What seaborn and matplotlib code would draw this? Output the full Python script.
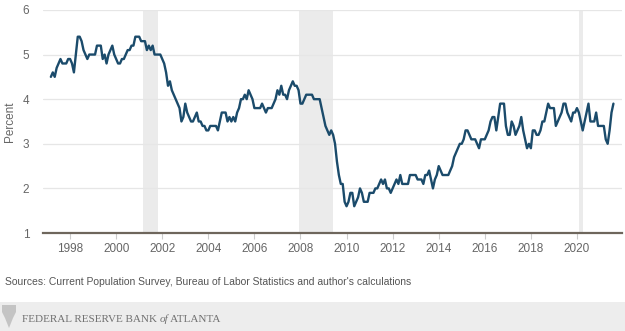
import numpy as np
import pandas as pd
import seaborn as sns
import matplotlib
matplotlib.use("Agg")
import matplotlib.pyplot as plt
from matplotlib.patches import Rectangle, Polygon

# ---- data (monthly, Mar 1997 - Aug 2021), percent ----
start_year = 1997
start_month = 3
values_1997 = [4.5, 4.6, 4.5, 4.7, 4.8, 4.9, 4.8, 4.8, 4.8, 4.9]
values_1998 = [4.9, 4.8, 4.6, 5.0, 5.4, 5.4, 5.3, 5.1, 5.0, 4.9, 5.0, 5.0]
values_1999 = [5.0, 5.0, 5.2, 5.2, 5.2, 4.9, 5.0, 4.8, 5.0, 5.1, 5.2, 5.0]
values_2000 = [4.9, 4.8, 4.8, 4.9, 4.9, 5.0, 5.1, 5.1, 5.2, 5.2, 5.4, 5.4]
values_2001 = [5.4, 5.3, 5.3, 5.3, 5.1, 5.2, 5.1, 5.2, 5.0, 5.0, 5.0, 5.0]
values_2002 = [4.9, 4.8, 4.6, 4.3, 4.4, 4.2, 4.1, 4.0, 3.9, 3.8, 3.5, 3.6]
values_2003 = [3.9, 3.7, 3.6, 3.5, 3.5, 3.6, 3.7, 3.5, 3.5, 3.4, 3.4, 3.3]
values_2004 = [3.3, 3.4, 3.4, 3.4, 3.4, 3.3, 3.5, 3.7, 3.7, 3.7, 3.5, 3.6]
values_2005 = [3.5, 3.6, 3.5, 3.7, 3.8, 4.0, 4.0, 4.1, 4.0, 4.2, 4.1, 4.0]
values_2006 = [3.8, 3.8, 3.8, 3.8, 3.9, 3.8, 3.7, 3.8, 3.8, 3.8, 3.9, 4.0]
values_2007 = [4.2, 4.1, 4.3, 4.1, 4.1, 4.0, 4.2, 4.3, 4.4, 4.3, 4.3, 4.2]
values_2008 = [3.9, 3.9, 4.0, 4.1, 4.1, 4.1, 4.1, 4.0, 4.0, 4.0, 4.0, 3.8]
values_2009 = [3.6, 3.4, 3.3, 3.2, 3.3, 3.2, 3.0, 2.6, 2.3, 2.1, 2.1, 1.7]
values_2010 = [1.6, 1.7, 1.9, 1.9, 1.6, 1.7, 1.8, 2.0, 1.9, 1.7, 1.7, 1.7]
values_2011 = [1.9, 1.9, 1.9, 2.0, 2.0, 2.1, 2.2, 2.1, 2.2, 2.0, 2.0, 1.9]
values_2012 = [2.0, 2.1, 2.2, 2.1, 2.3, 2.1, 2.1, 2.1, 2.1, 2.3, 2.3, 2.3]
values_2013 = [2.3, 2.2, 2.2, 2.2, 2.1, 2.3, 2.3, 2.4, 2.2, 2.0, 2.2, 2.3]
values_2014 = [2.5, 2.4, 2.3, 2.3, 2.3, 2.3, 2.4, 2.5, 2.7, 2.8, 2.9, 3.0]
values_2015 = [3.0, 3.1, 3.3, 3.3, 3.2, 3.1, 3.1, 3.1, 3.0, 2.9, 3.1, 3.1]
values_2016 = [3.1, 3.2, 3.3, 3.5, 3.6, 3.6, 3.3, 3.6, 3.9, 3.9, 3.9, 3.4]
values_2017 = [3.2, 3.2, 3.5, 3.4, 3.2, 3.3, 3.4, 3.6, 3.3, 3.1, 2.9, 3.0]
values_2018 = [2.9, 3.3, 3.3, 3.2, 3.2, 3.3, 3.5, 3.5, 3.7, 3.9, 3.8, 3.8]
values_2019 = [3.8, 3.4, 3.5, 3.6, 3.7, 3.9, 3.9, 3.7, 3.6, 3.5, 3.7, 3.7]
values_2020 = [3.8, 3.7, 3.5, 3.3, 3.5, 3.7, 3.9, 3.5, 3.5, 3.5, 3.7, 3.4]
values_2021 = [3.4, 3.4, 3.4, 3.1, 3.0, 3.3, 3.7, 3.9]

recession_starts = [2001.17, 2007.92, 2020.08]
recession_ends = [2001.83, 2009.42, 2020.25]

y_ticks = [1, 2, 3, 4, 5, 6]
x_ticks = [1998, 2000, 2002, 2004, 2006, 2008, 2010, 2012, 2014, 2016, 2018, 2020]
y_label = "Percent"
source_text = "Sources: Current Population Survey, Bureau of Labor Statistics and author's calculations"
footer_parts = ["FEDERAL RESERVE BANK ", "of", " ATLANTA"]

all_values = (values_1997 + values_1998 + values_1999 + values_2000 + values_2001 +
              values_2002 + values_2003 + values_2004 + values_2005 + values_2006 +
              values_2007 + values_2008 + values_2009 + values_2010 + values_2011 +
              values_2012 + values_2013 + values_2014 + values_2015 + values_2016 +
              values_2017 + values_2018 + values_2019 + values_2020 + values_2021)
n = len(all_values)
months = np.arange(n) + (start_month - 1)
dates = start_year + months / 12.0
df = pd.DataFrame({"date": dates, "value": all_values})

# ---- plot ----
sns.set_theme(style="white")
plt.rcParams["font.family"] = ["Liberation Sans", "DejaVu Sans"]

fig = plt.figure(figsize=(6.25, 3.31), dpi=100)
fig.patch.set_facecolor("white")
ax = fig.add_axes([0.069, 0.296, 0.926, 0.674])

for s, e in zip(recession_starts, recession_ends):
    ax.axvspan(s, e, color="#ebebeb", lw=0, zorder=0)

sns.lineplot(data=df, x="date", y="value", ax=ax, color="#1b4b6b", lw=1.7, zorder=3)

ax.set_ylim(1, 6)
ax.set_xlim(1996.83, 2021.95)
ax.set_yticks(y_ticks)
ax.set_xticks(x_ticks)
ax.set_xticklabels([str(t) for t in x_ticks])
ax.grid(axis="y", color="#e6e6e6", lw=0.9)
ax.grid(axis="x", visible=False)
for sp in ["top", "right", "left"]:
    ax.spines[sp].set_visible(False)
ax.spines["bottom"].set_color("#6e665c")
ax.spines["bottom"].set_linewidth(1.6)
ax.tick_params(axis="y", length=0, labelsize=8.5, labelcolor="#666666", pad=10)
ax.tick_params(axis="x", length=4, width=0.8, color="#cccccc", labelsize=8.5,
               labelcolor="#666666", pad=3, bottom=True)
ax.set_xlabel("")
ax.set_ylabel(y_label, fontsize=8.5, color="#666666", labelpad=5)

fig.text(5 / 625, 1 - 282 / 331, source_text, fontsize=7.5, color="#555555",
         va="center", ha="left")

# footer band
fig.patches.append(Rectangle((0, 0), 1, 29 / 331, transform=fig.transFigure,
                             facecolor="#ededed", edgecolor="none", zorder=0))
# small emblem
emblem = [(2, 305), (16, 305), (16, 312), (13, 318), (9, 328), (5, 318), (2, 312)]
fig.patches.append(Polygon([(x / 625, 1 - y / 331) for x, y in emblem], closed=True,
                           transform=fig.transFigure, facecolor="#c4c4c4",
                           edgecolor="none", zorder=1))

fig.canvas.draw()
renderer = fig.canvas.get_renderer()
x_px = 22
styles = ["normal", "italic", "normal"]
for part, st in zip(footer_parts, styles):
    t = fig.text(x_px / 625, 1 - 319.5 / 331, part, fontsize=8, color="#707070",
                 family=["Liberation Serif", "DejaVu Serif"], style=st,
                 va="center", ha="left")
    bb = t.get_window_extent(renderer=renderer)
    x_px += bb.width

fig.savefig("out.png", dpi=100)
